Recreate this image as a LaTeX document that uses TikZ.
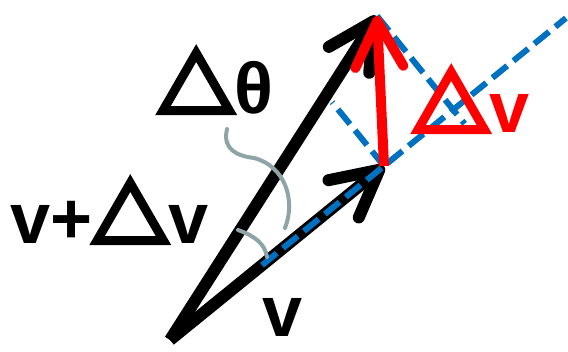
\documentclass[tikz,border=0pt]{standalone}
\usepackage{fontspec}
\setmainfont{Liberation Sans}
\newfontfamily\deltafont[FakeBold=8]{Noto Sans CJK JP}
\usetikzlibrary{arrows.meta,calc}
\definecolor{dashblue}{HTML}{0070C0}
\definecolor{bracegray}{HTML}{8FA5A5}
\newcommand{\dlt}{{\deltafont\mdseries\fontsize{76}{80}\selectfont △}}

\begin{document}
\begin{tikzpicture}[
  x=1pt, y=-1pt,
  vec/.style={line width=12pt, -{Straight Barb[length=46pt,width=48pt,line cap=round,line join=round]}},
  dvec/.style={vec, draw=red, line width=10pt},
  proj/.style={draw=dashblue, line width=6pt, dash pattern=on 19pt off 8pt},
  brace/.style={draw=bracegray, line width=4pt, line cap=round},
  lbl/.style={font=\fontsize{72}{80}\selectfont\bfseries, inner sep=0pt, anchor=base west}
]
\useasboundingbox (0,0) rectangle (568,351);

% vectors
\coordinate (O) at (170,340);
\coordinate (V) at (384,166);
\coordinate (W) at (377,16);
\coordinate (F) at ($(O)!(W)!(V)$);
\coordinate (C) at ($(V)-(F)+(W)$);

% projection lines
\draw[proj] (W) -- ($(W)!1.15!(F)$);
\draw[proj] (V) -- ($(V)!0.68!(C)$);

\draw[vec] (O) -- (W);
\draw[vec] (O) -- (V);
\draw[proj] ($(O)!0.43!(V)$) -- ($(O)!1.85!(V)$);
\draw[dvec] (V) -- (W);

% angle marks
\draw[brace] (227,129) .. controls (222,150) and (238,156) .. (254,158)
  .. controls (285,166) and (296,200) .. (285,228);
\draw[brace] (238,230) .. controls (255,236) and (265,244) .. (267,257);

% labels
\node[lbl] (dtheta) at (158,113) {\dlt θ};
\node[lbl] (vdv) at (10,243) {v+\dlt v};
\node[lbl] (vlab) at (262,336) {v};
\node[lbl, text=red] (dvlab) at (413,132) {\dlt v};
\end{tikzpicture}
\end{document}
